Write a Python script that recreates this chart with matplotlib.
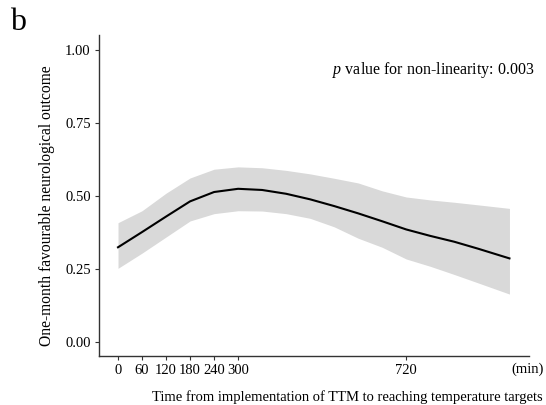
# ============================================================
# IMPORTACIÓN DE LIBRERÍAS
# ============================================================

import numpy as np
import matplotlib.pyplot as plt


# ============================================================
# DATOS
# ============================================================

time_min = [0, 60, 120, 180, 240, 300, 360, 420, 480,
            540, 600, 660, 720, 780, 840, 900, 978]

outcome = [0.325, 0.377, 0.430, 0.482, 0.514, 0.525, 0.521, 0.508, 0.489,
           0.466, 0.441, 0.414, 0.386, 0.364, 0.344, 0.320, 0.287]

ci_upper = [0.409, 0.450, 0.510, 0.562, 0.592, 0.600, 0.597, 0.588, 0.576,
            0.561, 0.545, 0.518, 0.497, 0.487, 0.479, 0.470, 0.458]

ci_lower = [0.253, 0.305, 0.360, 0.415, 0.440, 0.450, 0.449, 0.440, 0.424,
            0.395, 0.356, 0.325, 0.285, 0.260, 0.232, 0.203, 0.165]

x_ticks = [0, 60, 120, 180, 240, 300, 720]
y_ticks = [0.00, 0.25, 0.50, 0.75, 1.00]


# ============================================================
# CONFIGURACIÓN
# ============================================================

plt.rcParams["font.family"] = ["Liberation Serif", "DejaVu Serif"]
plt.rcParams["mathtext.fontset"] = "custom"
plt.rcParams["mathtext.rm"] = "Liberation Serif"
plt.rcParams["mathtext.it"] = "Liberation Serif:italic"

fig = plt.figure(figsize=(5.46, 4.05), dpi=100)
ax = fig.add_axes([0.1813, 0.1217, 0.7877, 0.7919])


# ============================================================
# GRÁFICO
# ============================================================

ax.fill_between(
    time_min,
    ci_lower,
    ci_upper,
    color="#d9d9d9",
    linewidth=0
)

ax.plot(
    time_min,
    outcome,
    color="black",
    linewidth=1.5
)

ax.set_xlim(-47.5, 1027)
ax.set_ylim(-0.0458, 1.051)

ax.set_xticks(x_ticks)
ax.set_xticklabels([str(t) for t in x_ticks])
ax.set_yticks(y_ticks)
ax.set_yticklabels([f"{v:.2f}" for v in y_ticks])

ax.tick_params(
    axis="both",
    labelsize=10.5,
    length=3,
    width=0.8,
    pad=3,
    color="#333333",
    labelcolor="black"
)

for side in ["top", "right"]:
    ax.spines[side].set_visible(False)

for side in ["left", "bottom"]:
    ax.spines[side].set_color("#333333")
    ax.spines[side].set_linewidth(1.0)


# ============================================================
# TEXTOS
# ============================================================

fig.text(
    535 / 546, 1 - 70 / 405,
    r"$\mathit{p}$ value for non-linearity: 0.003",
    ha="right",
    va="center",
    fontsize=11.5
)

fig.text(528 / 546, 1 - 369 / 405, "(min)", ha="center", va="center", fontsize=10.5)

fig.text(
    347 / 546, 1 - 397 / 405,
    "Time from implementation of TTM to reaching temperature targets",
    ha="center",
    va="center",
    fontsize=10.5
)

fig.text(
    47 / 546, 1 - 206 / 405,
    "One-month favourable neurological outcome",
    ha="center",
    va="center",
    rotation=90,
    fontsize=11.2
)

fig.text(18.5 / 546, 1 - 22.5 / 405, "b", ha="center", va="center", fontsize=23)

plt.savefig("out.png", dpi=100)
